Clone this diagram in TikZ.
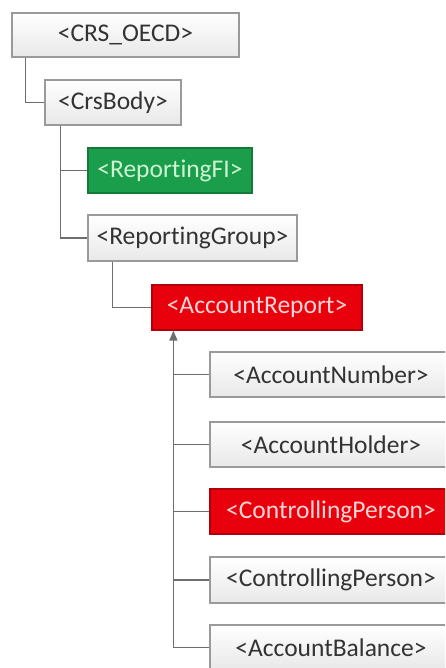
\documentclass[tikz,border=0pt]{standalone}
\usepackage{fontspec}
\setmainfont[Ligatures=NoCommon]{Carlito}
\usetikzlibrary{arrows.meta}
\definecolor{boxline}{HTML}{9A9A9A}
\definecolor{conn}{HTML}{6E6E6E}
\definecolor{txt}{HTML}{333333}
\definecolor{fig}{HTML}{1A9E4C}
\definecolor{figdark}{HTML}{137A3A}
\definecolor{figtxt}{HTML}{CDF5D2}
\definecolor{rep}{HTML}{E8000C}
\definecolor{repdark}{HTML}{B0000A}
\definecolor{reptxt}{HTML}{FFD6D6}
\tikzset{
  elem/.style={draw=boxline, line width=1.2pt, top color=white, bottom color=black!9,
    text=txt, inner sep=0pt, font=\fontsize{25.5}{30}\selectfont},
  greenbox/.style={draw=figdark, line width=1.2pt, fill=fig, text=figtxt, inner sep=0pt,
    font=\fontsize{25.5}{30}\selectfont},
  redbox/.style={draw=repdark, line width=1.2pt, fill=rep, text=reptxt, inner sep=0pt,
    font=\fontsize{25.5}{30}\selectfont},
  conline/.style={draw=conn, line width=1.4pt}
}
\newcommand{\boxat}[7]{% style, name, x1, y1, x2, y2, text
  \node[#1, minimum width={(#5-#3)*1pt}, minimum height={(#6-#4)*1pt}] (#2) at ({(#3+#5)/2},{(#4+#6)/2}) {#7};}
\begin{document}
\begin{tikzpicture}[x=1pt,y=-1pt]
\useasboundingbox (0,0) rectangle (445,668);
\clip (0,0) rectangle (445,668);
\fill[white] (0,0) rectangle (445,668);
\boxat{elem}{oecd}{12}{13}{239}{57}{<CRS\_OECD>}
\boxat{elem}{body}{45}{80}{181}{125}{<CrsBody>}
\boxat{greenbox}{fi}{88}{148}{252}{193}{<ReportingFI>}
\boxat{elem}{group}{88}{215}{297}{261}{<ReportingGroup>}
\boxat{redbox}{report}{152}{285}{362}{330}{<AccountReport>}
\boxat{elem}{num}{210}{352}{452}{397}{<AccountNumber>}
\boxat{elem}{holder}{210}{422}{452}{467}{<AccountHolder>}
\boxat{redbox}{cpa}{210}{489}{452}{534}{<ControllingPerson>}
\boxat{elem}{cpb}{210}{557}{452}{603}{<ControllingPerson>}
\boxat{elem}{bal}{210}{625}{452}{670}{<AccountBalance>}
% connectors
\coordinate (s1) at ([xshift=14pt]oecd.south west);
\coordinate (s2) at ([xshift=16pt]body.south west);
\coordinate (s3) at ([xshift=25pt]group.south west);
\coordinate (s4) at ([xshift=22pt]report.south west);
\draw[conline] (s1) |- (body.west);
\draw[conline] (s2) |- (fi.west);
\draw[conline] (s2) |- (group.west);
\draw[conline] (s3) |- (report.west);
\draw[conline, -{Triangle[length=10pt,width=8pt]}] (bal.west) -| (s4);
\draw[conline] (num.west) -- (num.west -| s4);
\draw[conline] (holder.west) -- (holder.west -| s4);
\draw[conline] (cpa.west) -- (cpa.west -| s4);
\draw[conline] (cpb.west) -- (cpb.west -| s4);
\end{tikzpicture}
\end{document}
